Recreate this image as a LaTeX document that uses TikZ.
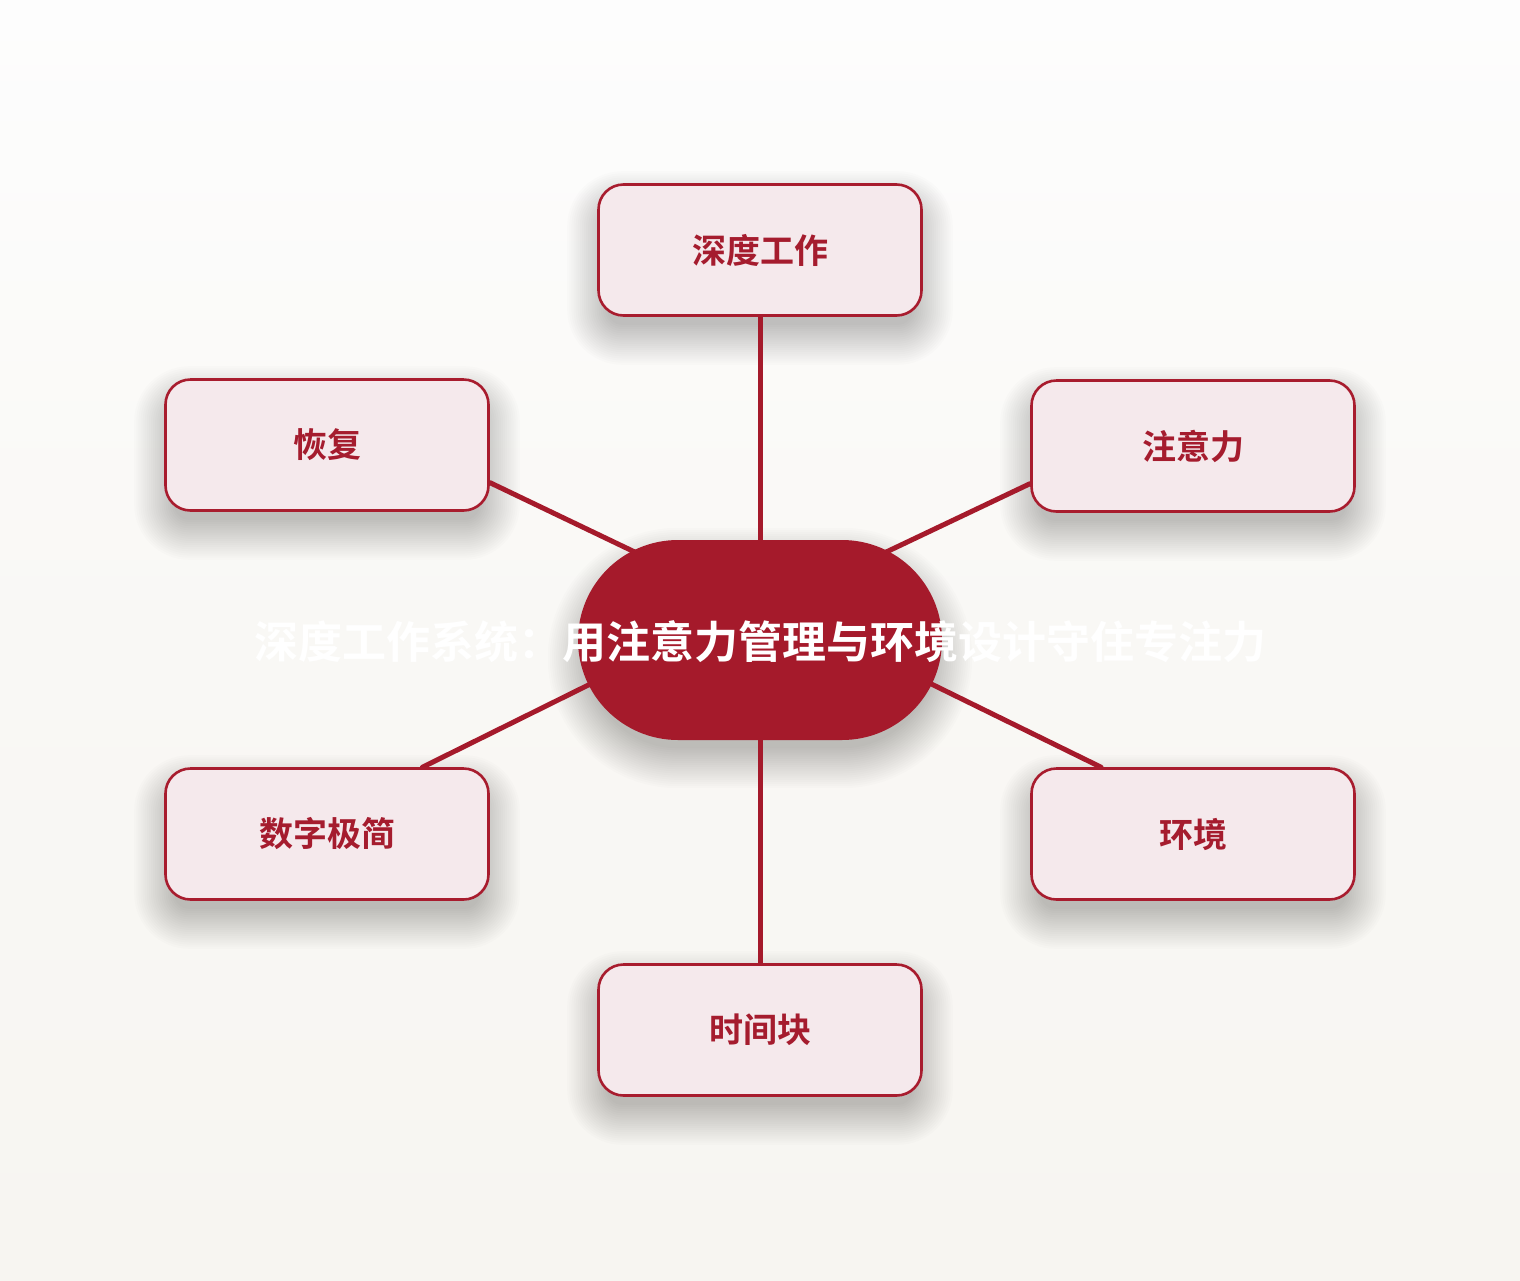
\documentclass[tikz,border=0pt]{standalone}
\usepackage{fontspec}
\newfontfamily\cjk{Noto Sans CJK SC}[BoldFont={* Bold}]
\usetikzlibrary{calc}
\definecolor{bgtop}{HTML}{FDFDFD}
\definecolor{bgmid}{HTML}{F9F8F5}
\definecolor{bgbot}{HTML}{F7F5F1}
\definecolor{hubred}{HTML}{A51A2B}
\definecolor{boxline}{HTML}{A81C2E}
\definecolor{boxfill}{HTML}{F5E9EC}
\definecolor{boxtext}{HTML}{A51C2E}
\pgfdeclarelayer{bg}
\pgfdeclarelayer{shad}
\pgfdeclarelayer{edge}
\pgfsetlayers{bg,shad,edge,main}
\tikzset{
  topic/.style={rectangle, rounded corners=25pt, minimum width=323pt, minimum height=131pt,
    fill=boxfill, draw=boxline, line width=2.6pt, text=boxtext, inner sep=0pt,
    font=\cjk\bfseries\fontsize{34}{40}\selectfont},
  hub/.style={rectangle, rounded corners=100pt, minimum width=364pt, minimum height=200pt,
    fill=hubred, draw=none, inner sep=0pt},
  titletext/.style={text=white, inner sep=0pt, font=\cjk\bfseries\fontsize{44}{52}\selectfont},
  link/.style={draw=hubred, line width=5pt, line cap=round},
  shadowlayer/.style={fill=black, opacity=0.0135},
}
\begin{document}
\begin{tikzpicture}[x=1pt,y=-1pt]
\useasboundingbox (0,0) rectangle (1520,1280);
\begin{pgfonlayer}{bg}
\shade[top color=bgtop, bottom color=bgmid] (0,0) rectangle (1520,640);
\shade[top color=bgmid, bottom color=bgbot] (0,640) rectangle (1520,1280);
\end{pgfonlayer}

\node[hub] (hub) at (760,640) {};
\node[titletext] (title) at (760,642) {深度工作系统：用注意力管理与环境设计守住专注力};

\node[topic] (deep) at (760,250) {深度工作};
\node[topic] (zhu)  at (1193,446) {注意力};
\node[topic] (hui)  at (327,445) {恢复};
\node[topic] (shu)  at (327,834) {数字极简};
\node[topic] (huan) at (1193,834) {环境};
\node[topic] (time) at (760,1030) {时间块};

\begin{pgfonlayer}{shad}
\foreach \n in {deep,zhu,hui,shu,huan,time}{
  \foreach \k in {1,...,20}{
    \pgfmathsetmacro\ee{\k*2.1-12}
    \pgfmathsetmacro\rr{max(25+\ee,4)}
    \fill[shadowlayer, rounded corners=\rr pt]
      ($(\n.south west)+(-\ee,18+\ee)$) rectangle ($(\n.north east)+(\ee,18-\ee)$);
  }
}
\foreach \k in {1,...,20}{
  \pgfmathsetmacro\ee{\k*2.1-12}
  \pgfmathsetmacro\rr{100+\ee}
  \fill[shadowlayer, rounded corners=\rr pt]
    ($(hub.south west)+(-\ee,18+\ee)$) rectangle ($(hub.north east)+(\ee,18-\ee)$);
}
\end{pgfonlayer}

\begin{pgfonlayer}{edge}
\draw[link] (deep.south) -- (hub.north);
\draw[link] (time.north) -- (hub.south);
\draw[link] (hui.-13.5) -- ($(hub.center)+(0,-28)$);
\draw[link] (zhu.193.8) -- ($(hub.center)+(0,-28)$);
\draw[link] (shu.35.8) -- ($(hub.center)+(0,-40)$);
\draw[link] (huan.144.2) -- ($(hub.center)+(0,-40)$);
\end{pgfonlayer}
\end{tikzpicture}
\end{document}
